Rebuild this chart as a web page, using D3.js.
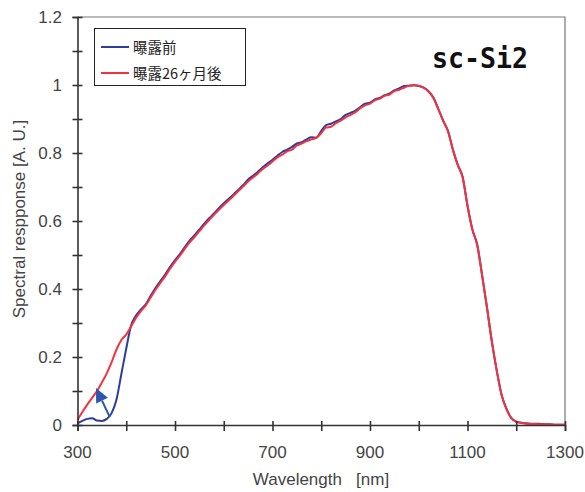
<!DOCTYPE html>
<html><head><meta charset="utf-8">
<script src="https://cdn.jsdelivr.net/npm/d3@7"></script>
<style>body{margin:0;background:#fff}</style>
</head><body><svg id="c" width="585" height="492"></svg>
<script>
const wavelengths = [300,310,320,330,340,350,360,370,380,390,400,410,420,430,440,450,460,470,480,490,500,510,520,530,540,550,560,570,580,590,600,610,620,630,640,650,660,670,680,690,700,710,720,730,740,750,760,770,780,790,800,810,820,830,840,850,860,870,880,890,900,910,920,930,940,950,960,970,980,990,1000,1010,1020,1030,1040,1050,1060,1070,1080,1090,1100,1110,1120,1130,1140,1150,1160,1170,1180,1190,1200,1210,1220,1230,1240,1250,1260,1270,1280,1290,1300];
const before = [0.005,0.012,0.018,0.02,0.013,0.012,0.018,0.035,0.075,0.15,0.225,0.293,0.322,0.34,0.355,0.38,0.403,0.423,0.443,0.465,0.485,0.503,0.523,0.542,0.558,0.575,0.592,0.608,0.622,0.638,0.652,0.665,0.678,0.692,0.706,0.722,0.733,0.745,0.758,0.77,0.78,0.792,0.803,0.81,0.818,0.828,0.832,0.84,0.846,0.845,0.865,0.882,0.886,0.893,0.9,0.912,0.918,0.925,0.935,0.945,0.948,0.958,0.962,0.97,0.975,0.984,0.99,0.997,0.998,0.999,0.997,0.992,0.982,0.963,0.93,0.895,0.865,0.81,0.765,0.73,0.645,0.575,0.53,0.44,0.345,0.245,0.16,0.088,0.048,0.02,0.01,0.007,0.005,0.004,0.004,0.003,0.002,0.002,0.001,0.001,0.001];
const after = [0.015,0.038,0.06,0.08,0.1,0.125,0.152,0.185,0.222,0.25,0.266,0.29,0.315,0.335,0.352,0.375,0.398,0.418,0.438,0.46,0.48,0.498,0.518,0.537,0.553,0.57,0.587,0.603,0.618,0.633,0.647,0.66,0.674,0.688,0.702,0.716,0.728,0.74,0.753,0.763,0.775,0.787,0.795,0.805,0.81,0.822,0.828,0.835,0.84,0.845,0.858,0.875,0.877,0.888,0.895,0.905,0.912,0.92,0.932,0.94,0.945,0.955,0.96,0.968,0.972,0.982,0.986,0.992,0.998,0.999,0.998,0.992,0.981,0.962,0.93,0.895,0.864,0.81,0.765,0.728,0.645,0.575,0.528,0.44,0.345,0.245,0.16,0.088,0.046,0.02,0.01,0.006,0.004,0.003,0.003,0.002,0.002,0.001,0.001,0.001,0.001];
const seriesNames = ["曝露前","曝露26ヶ月後"];
const seriesColors = ["#2b3d9e","#f2333f"];
const xTicks = [300,400,500,600,700,800,900,1000,1100,1200,1300];
const xLabels = [300,500,700,900,1100,1300];
const yTicks = [0,0.1,0.2,0.3,0.4,0.5,0.6,0.7,0.8,0.9,1,1.1,1.2];
const yLabels = [0,0.2,0.4,0.6,0.8,1,1.2];

const svg = d3.select("#c");
const x = d3.scaleLinear().domain([300,1300]).range([77.5,565]);
const y = d3.scaleLinear().domain([0,1.2]).range([425,17]);
const font = "'Liberation Sans', Arial, sans-serif";

// frame top/right
svg.append("path").attr("d",`M${x(300)},${y(1.2)}H${x(1300)}V${y(0)}`)
  .attr("fill","none").attr("stroke","#777").attr("stroke-width",1.2);

// curves
const line = d3.line().x((d,i)=>x(wavelengths[i])).y(d=>y(d)).curve(d3.curveMonotoneX);
[before, after].forEach((s,k)=>{
  svg.append("path").datum(s).attr("d",line).attr("fill","none")
    .attr("stroke",seriesColors[k]).attr("stroke-width",2).attr("stroke-linejoin","round");
});

// axes
const xAxis = svg.append("g").attr("transform",`translate(0,${y(0)})`)
  .call(d3.axisBottom(x).tickValues(xTicks).tickSize(6).tickFormat(""));
xAxis.select(".domain").attr("stroke","#333").attr("stroke-width",1.6);
xAxis.selectAll(".tick line").attr("stroke","#333").attr("stroke-width",1.6).attr("y1",-4);
const yAxis = svg.append("g").attr("transform",`translate(${x(300)},0)`)
  .call(d3.axisLeft(y).tickValues(yTicks).tickSize(5).tickFormat(""));
yAxis.select(".domain").attr("stroke","#333").attr("stroke-width",1.6);
yAxis.selectAll(".tick line").attr("stroke","#333").attr("stroke-width",1.6).attr("x1",-5).attr("x2",5);

// tick labels
svg.append("g").selectAll("text").data(xLabels).join("text")
  .attr("x",d=>x(d)).attr("y",458).attr("text-anchor","middle")
  .attr("font-family",font).attr("font-size",17).attr("fill","#444").text(d=>d);
svg.append("g").selectAll("text").data(yLabels).join("text")
  .attr("x",62).attr("y",d=>y(d)+6).attr("text-anchor","end")
  .attr("font-family",font).attr("font-size",17).attr("fill","#444").text(d=>d);

// axis titles
svg.append("text").attr("x",321).attr("y",485).attr("text-anchor","middle")
  .attr("font-family",font).attr("font-size",17).attr("fill","#444")
  .attr("xml:space","preserve").style("white-space","pre").text("Wavelength   [nm]");
svg.append("text").attr("transform","translate(25,219) rotate(-90)").attr("text-anchor","middle")
  .attr("font-family",font).attr("font-size",17).attr("fill","#444").text("Spectral respponse [A. U.]");

// legend
svg.append("rect").attr("x",94.5).attr("y",28.5).attr("width",151).attr("height",57)
  .attr("fill","#fff").attr("stroke","#222").attr("stroke-width",1);
seriesNames.forEach((n,k)=>{
  const ly = 47 + k*26;
  svg.append("line").attr("x1",101).attr("x2",129).attr("y1",ly).attr("y2",ly)
    .attr("stroke",seriesColors[k]).attr("stroke-width",2);
  svg.append("text").attr("x",133).attr("y",ly+5.5).attr("font-family","'Noto Sans CJK JP', sans-serif")
    .attr("font-size",14.5).attr("fill","#222").text(n);
});

// title
svg.append("text").attr("x",432).attr("y",67.5).attr("font-family","'DejaVu Sans Mono', monospace")
  .attr("font-weight","bold").attr("font-size",29).attr("fill","#111")
  .attr("textLength",96).attr("lengthAdjust","spacingAndGlyphs").text("sc-Si2");

// arrow annotation
const ax0 = x(366), ay0 = y(0.024), ax1 = x(338), ay1 = y(0.109);
const ang = Math.atan2(ay1-ay0, ax1-ax0);
const hl = 14, hw = 6.5;
const bx = ax1 - hl*Math.cos(ang), by = ay1 - hl*Math.sin(ang);
svg.append("line").attr("x1",ax0).attr("y1",ay0).attr("x2",bx).attr("y2",by)
  .attr("stroke","#2a56b0").attr("stroke-width",2);
svg.append("path").attr("d",`M${ax1},${ay1}L${bx+hw*Math.sin(ang)},${by-hw*Math.cos(ang)}L${bx-hw*Math.sin(ang)},${by+hw*Math.cos(ang)}Z`)
  .attr("fill","#2a56b0");
</script></body></html>
